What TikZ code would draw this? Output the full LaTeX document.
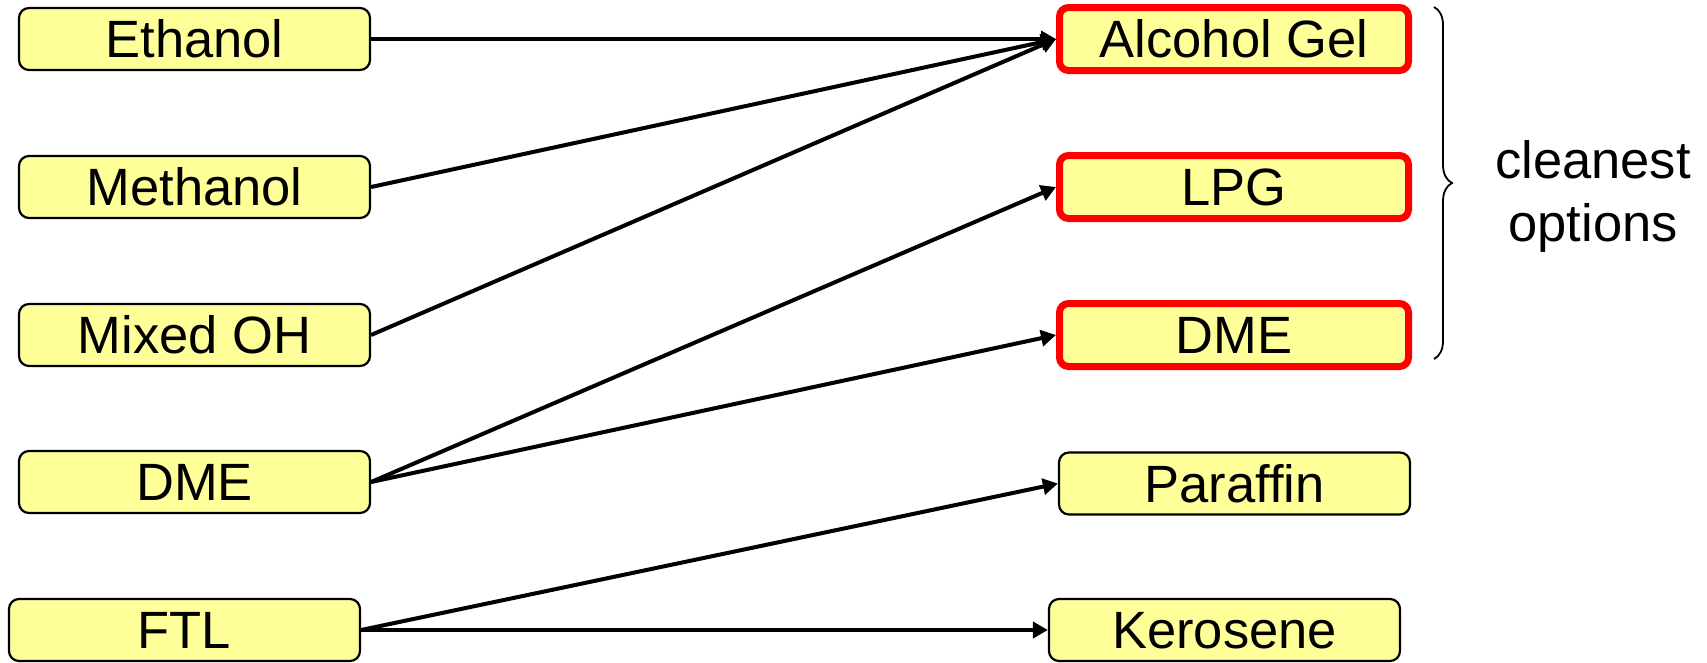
\documentclass[tikz,border=0pt]{standalone}
\usepackage{fontspec}
\setmainfont{Liberation Sans}
\usetikzlibrary{arrows.meta,decorations.pathreplacing}
\definecolor{fuelyellow}{HTML}{FFFF99}
\definecolor{cleanred}{HTML}{FF0000}
\begin{document}
\begin{tikzpicture}[x=1pt,y=-1pt,
  label text/.style={font=\fontsize{52.5}{63}\selectfont},
  fuel/.style={label text, draw=black, line width=2.2pt, fill=fuelyellow,
    rounded corners=10pt, minimum width=351pt, minimum height=62pt,
    inner sep=0pt, text height=37.6pt, text depth=0pt},
  clean/.style={fuel, draw=cleanred, line width=7pt, rounded corners=9pt,
    minimum width=349pt, minimum height=63pt},
  flow/.style={line width=4pt, -{Triangle[length=15pt,width=16pt]}},
  bracket/.style={line width=1.8pt, decorate, decoration={brace, amplitude=18pt}}]
  \useasboundingbox (0,0) rectangle (1707,662);

  % source fuels
  \node[fuel] (ethanol)  at (194.5,39)  {Ethanol};
  \node[fuel] (methanol) at (194.5,187) {Methanol};
  \node[fuel] (mixed)    at (194.5,335) {Mixed OH};
  \node[fuel] (dmesrc)   at (194.5,482) {DME};
  \node[fuel] (ftl)      at (184.5,630) {FTL};

  % end-use fuels
  \node[clean] (gel)      at (1234,39)    {Alcohol Gel};
  \node[clean] (lpg)      at (1234,187)   {LPG};
  \node[clean] (dme)      at (1234,335)   {DME};
  \node[fuel]  (paraffin) at (1234.5,483.5) {Paraffin};
  \node[fuel]  (kerosene) at (1224.5,630) {Kerosene};

  % conversion routes
  \draw[flow] (ethanol.east)  -- (gel.west);
  \draw[flow] (methanol.east) -- (gel.west);
  \draw[flow] (mixed.east)    -- (gel.west);
  \draw[flow] (dmesrc.east)   -- (lpg.west);
  \draw[flow] (dmesrc.east)   -- (dme.west);
  \draw[flow] (ftl.east)      -- (paraffin.west);
  \draw[flow] (ftl.east)      -- (kerosene.west);

  % grouping of the cleanest options
  \coordinate (bracetop) at (1434,7);
  \coordinate (bracebot) at (1434,359);
  \draw[bracket] (bracetop) -- (bracebot);
  \node[label text, anchor=base] (cleanest) at (1593,178) {cleanest};
  \node[label text, anchor=base] (options)  at (1593,241) {options};
\end{tikzpicture}
\end{document}
